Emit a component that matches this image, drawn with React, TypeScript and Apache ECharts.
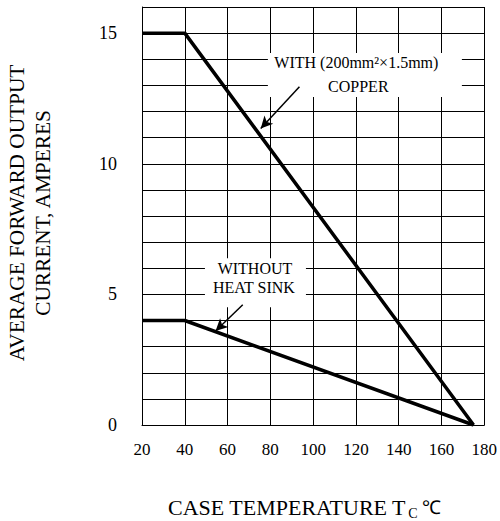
import React, { useEffect, useRef } from "react";
import * as echarts from "echarts";

const X_MIN = 20;
const X_MAX = 180;
const X_STEP = 20;
const Y_MIN = 0;
const Y_MAX = 16;
const Y_STEP = 1;
const Y_LABELS = [0, 5, 10, 15];

const copperTemp = [20, 40, 175];
const copperCurrent = [15, 15, 0];
const noSinkTemp = [20, 40, 175];
const noSinkCurrent = [4, 4, 0];

// annotation anchors in data units
const copperArrow = [[93.6, 12.95], [75.5, 11.35]];
const noSinkArrow = [[67.1, 4.6], [54.4, 3.6]];
const copperBoxCenter = [124.2, 13.4];
const copperTextCenter = [120.2, 13.4];
const noSinkBoxCenter = [72.8, 5.46];

const FONT = "Liberation Serif";

export default function App() {
  const ref = useRef<HTMLDivElement>(null);
  useEffect(() => {
    document.body.style.margin = "0";
    const chart = echarts.init(ref.current!, null, { renderer: "svg" });
    const black = "#000";
    const arrowLine = (pts: number[][]) => ({
      silent: true,
      symbol: ["none", "arrow"],
      symbolSize: [9, 12],
      label: { show: false },
      lineStyle: { color: black, width: 1.5, type: "solid" },
      data: [[{ coord: pts[0] }, { coord: pts[1] }]],
    });
    chart.setOption({
      animation: false,
      backgroundColor: "#fff",
      textStyle: { fontFamily: FONT },
      grid: { left: 142, right: 8, top: 7, bottom: 96, containLabel: false },
      xAxis: {
        type: "value",
        min: X_MIN,
        max: X_MAX,
        interval: X_STEP,
        axisLine: { show: true, lineStyle: { color: black, width: 1 } },
        axisTick: { show: false },
        splitLine: { show: true, lineStyle: { color: black, width: 1 } },
        axisLabel: {
          color: black,
          fontFamily: FONT,
          fontSize: 17,
          margin: 16,
        },
      },
      yAxis: {
        type: "value",
        min: Y_MIN,
        max: Y_MAX,
        interval: Y_STEP,
        axisLine: { show: true, lineStyle: { color: black, width: 1 } },
        axisTick: { show: false },
        splitLine: { show: true, lineStyle: { color: black, width: 1 } },
        axisLabel: {
          color: black,
          fontFamily: FONT,
          fontSize: 18,
          margin: 25,
          formatter: (v: number) => (Y_LABELS.includes(v) ? String(v) : ""),
        },
      },
      series: [
        {
          name: "copper",
          type: "line",
          symbol: "none",
          z: 3,
          lineStyle: { color: black, width: 3.5 },
          data: copperTemp.map((t, i) => [t, copperCurrent[i]]),
          markLine: arrowLine(copperArrow),
        },
        {
          name: "noSink",
          type: "line",
          symbol: "none",
          z: 3,
          lineStyle: { color: black, width: 3.5 },
          data: noSinkTemp.map((t, i) => [t, noSinkCurrent[i]]),
          markLine: arrowLine(noSinkArrow),
        },
      ],
    });

    const px = (p: number[]) => chart.convertToPixel({ gridIndex: 0 }, p) as number[];
    const cb = px(copperBoxCenter);
    const ct = px(copperTextCenter);
    const nb = px(noSinkBoxCenter);
    const annFont = { fontFamily: FONT, fontSize: 16, fill: black };

    const titleSize = 22;
    const mainTitle = "CASE TEMPERATURE T";
    let mainW = 225;
    try {
      const t = new (echarts.graphic as any).Text({
        style: { text: mainTitle, fontFamily: FONT, fontSize: titleSize },
      });
      const w = t.getBoundingRect().width;
      if (w > 50 && w < 400) mainW = w;
    } catch (e) {}
    const titleX = 168;
    const subX = titleX + mainW + 2;
    const degX = subX + 14;

    chart.setOption({
      graphic: [
        {
          type: "rect",
          z: 1,
          shape: { x: cb[0] - 97, y: cb[1] - 22, width: 194, height: 44 },
          style: { fill: "#fff" },
        },
        {
          type: "text",
          z: 2,
          x: ct[0],
          y: ct[1] - 12,
          style: { ...annFont, text: "WITH (200mm²×1.5mm)", align: "center", verticalAlign: "middle" },
        },
        {
          type: "text",
          z: 2,
          x: ct[0] + 2,
          y: ct[1] + 12,
          style: { ...annFont, text: "COPPER", align: "center", verticalAlign: "middle" },
        },
        {
          type: "rect",
          z: 1,
          shape: { x: nb[0] - 50, y: nb[1] - 24, width: 101, height: 49 },
          style: { fill: "#fff" },
        },
        {
          type: "text",
          z: 2,
          x: nb[0],
          y: nb[1] - 14,
          style: { ...annFont, text: "WITHOUT", align: "center", verticalAlign: "middle" },
        },
        {
          type: "text",
          z: 2,
          x: nb[0] - 1,
          y: nb[1] + 5,
          style: { ...annFont, text: "HEAT SINK", align: "center", verticalAlign: "middle" },
        },
        {
          type: "text",
          x: 30,
          y: 213,
          rotation: Math.PI / 2,
          style: {
            fontFamily: FONT,
            fontSize: 21.3,
            lineHeight: 26,
            fill: black,
            text: "AVERAGE FORWARD OUTPUT\nCURRENT, AMPERES",
            align: "center",
            verticalAlign: "middle",
          },
        },
        {
          type: "text",
          x: titleX,
          y: 507,
          style: {
            fontFamily: FONT,
            fontSize: titleSize,
            fill: black,
            text: mainTitle,
            align: "left",
            verticalAlign: "middle",
          },
        },
        {
          type: "text",
          x: subX,
          y: 513,
          style: {
            fontFamily: FONT,
            fontSize: 14,
            fill: black,
            text: "C",
            align: "left",
            verticalAlign: "middle",
          },
        },
        {
          type: "text",
          x: degX,
          y: 507,
          style: {
            fontFamily: FONT,
            fontSize: 19,
            fill: black,
            text: "℃",
            align: "left",
            verticalAlign: "middle",
          },
        },
      ],
    });
    return () => chart.dispose();
  }, []);
  return <div ref={ref} style={{ width: 500, height: 521 }} />;
}
